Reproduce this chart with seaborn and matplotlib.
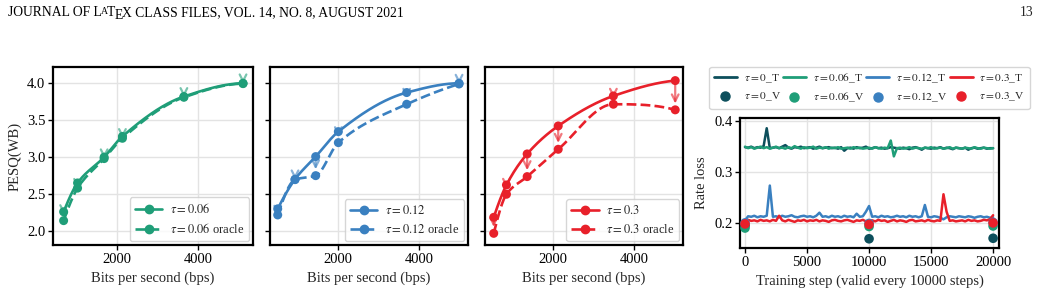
import numpy as np
import pandas as pd
import seaborn as sns
import matplotlib.pyplot as plt
from matplotlib.lines import Line2D

sns.set_theme(style='whitegrid')
plt.rcParams['font.family'] = ['Liberation Serif', 'DejaVu Serif']
plt.rcParams['mathtext.fontset'] = 'stix'
plt.rcParams['xtick.bottom'] = True
plt.rcParams['ytick.left'] = True
plt.rcParams['axes.edgecolor'] = 'black'
plt.rcParams['grid.color'] = '#e3e3e3'

# ---- PESQ vs bitrate data ----
bps_006 = [694, 1037, 1690, 2139, 3649, 5102]
pesq_006 = [2.26, 2.65, 3.00, 3.28, 3.82, 4.00]
oracle_006 = [2.14, 2.58, 2.98, 3.255, 3.81, 3.995]

bps_012 = [531, 955, 1461, 2016, 3690, 4972]
pesq_012 = [2.30, 2.70, 3.007, 3.345, 3.874, 4.00]
oracle_012 = [2.217, 2.695, 2.749, 3.196, 3.716, 3.99]

bps_03 = [557, 869, 1377, 2139, 3492, 5009]
pesq_03 = [2.185, 2.623, 3.043, 3.422, 3.828, 4.036]
oracle_03 = [1.968, 2.497, 2.736, 3.106, 3.716, 3.64]

# ---- rate loss training curves (logged every 250 steps) ----
steps = np.arange(0, 20001, 250)
loss_0 = [0.348, 0.347, 0.349, 0.346, 0.348, 0.347, 0.350, 0.385, 0.346, 0.347,
          0.348, 0.346, 0.349, 0.352, 0.347, 0.345, 0.348, 0.347, 0.349, 0.346,
          0.347, 0.348, 0.345, 0.347, 0.349, 0.346, 0.347, 0.348, 0.346, 0.347,
          0.345, 0.348, 0.341, 0.346, 0.347, 0.345, 0.348, 0.346, 0.347, 0.349,
          0.345, 0.346, 0.348, 0.346, 0.347, 0.345, 0.346, 0.348, 0.347, 0.346,
          0.345, 0.347, 0.346, 0.344, 0.347, 0.348, 0.346, 0.343, 0.347, 0.346,
          0.345, 0.347, 0.346, 0.348, 0.345, 0.347, 0.346, 0.344, 0.347, 0.346,
          0.345, 0.347, 0.343, 0.346, 0.347, 0.345, 0.346, 0.347, 0.345, 0.346,
          0.346]
loss_006 = [0.349, 0.346, 0.348, 0.345, 0.347, 0.349, 0.346, 0.348, 0.345, 0.347,
            0.349, 0.346, 0.347, 0.345, 0.348, 0.346, 0.350, 0.347, 0.345, 0.348,
            0.346, 0.347, 0.349, 0.345, 0.347, 0.346, 0.348, 0.345, 0.347, 0.346,
            0.348, 0.345, 0.346, 0.347, 0.345, 0.348, 0.346, 0.347, 0.345, 0.346,
            0.347, 0.345, 0.348, 0.346, 0.345, 0.347, 0.346, 0.361, 0.330, 0.346,
            0.347, 0.345, 0.346, 0.348, 0.345, 0.347, 0.346, 0.345, 0.347, 0.346,
            0.348, 0.345, 0.346, 0.347, 0.345, 0.346, 0.348, 0.345, 0.347, 0.346,
            0.345, 0.347, 0.346, 0.345, 0.348, 0.346, 0.345, 0.347, 0.346, 0.345,
            0.346]
loss_012 = [0.205, 0.213, 0.212, 0.214, 0.211, 0.213, 0.212, 0.214, 0.273, 0.212,
            0.213, 0.211, 0.214, 0.212, 0.213, 0.215, 0.212, 0.211, 0.213, 0.214,
            0.212, 0.213, 0.211, 0.214, 0.220, 0.212, 0.213, 0.211, 0.214, 0.212,
            0.213, 0.211, 0.214, 0.212, 0.213, 0.211, 0.218, 0.212, 0.213, 0.222,
            0.233, 0.212, 0.213, 0.211, 0.214, 0.212, 0.213, 0.211, 0.212, 0.214,
            0.212, 0.213, 0.211, 0.214, 0.212, 0.213, 0.211, 0.213, 0.235, 0.212,
            0.211, 0.213, 0.212, 0.210, 0.207, 0.211, 0.213, 0.212, 0.211, 0.213,
            0.212, 0.211, 0.213, 0.212, 0.210, 0.212, 0.213, 0.211, 0.212, 0.210,
            0.211]
loss_03 = [0.200, 0.206, 0.204, 0.205, 0.203, 0.206, 0.204, 0.205, 0.203, 0.206,
           0.204, 0.214, 0.205, 0.203, 0.206, 0.204, 0.202, 0.205, 0.204, 0.206,
           0.203, 0.205, 0.204, 0.206, 0.203, 0.205, 0.204, 0.202, 0.205, 0.206,
           0.204, 0.203, 0.205, 0.206, 0.204, 0.202, 0.205, 0.204, 0.206, 0.203,
           0.204, 0.205, 0.203, 0.206, 0.204, 0.205, 0.202, 0.204, 0.206, 0.203,
           0.205, 0.204, 0.202, 0.205, 0.206, 0.203, 0.204, 0.205, 0.203, 0.206,
           0.204, 0.203, 0.205, 0.204, 0.256, 0.222, 0.204, 0.205, 0.203, 0.204,
           0.205, 0.203, 0.206, 0.204, 0.205, 0.203, 0.204, 0.206, 0.205, 0.207,
           0.215]

val_steps = [0, 10000, 20000]
val_0 = [0.195, 0.169, 0.170]
val_006 = [0.190, 0.193, 0.194]
val_012 = [0.200, 0.199, 0.201]
val_03 = [0.198, 0.197, 0.200]

taus = ['0', '0.06', '0.12', '0.3']
colors = ['#0d4f5c', '#1f9e78', '#3a80c0', '#e8202a']


def smooth(x, y, n=200):
    # monotone cubic (PCHIP) curve through the measured points, for drawing only
    x = np.asarray(x, float)
    y = np.asarray(y, float)
    m = len(x)
    h = np.diff(x)
    dl = np.diff(y) / h
    d = np.zeros(m)
    for k in range(1, m - 1):
        if dl[k - 1] * dl[k] > 0:
            w1 = 2 * h[k] + h[k - 1]
            w2 = h[k] + 2 * h[k - 1]
            d[k] = (w1 + w2) / (w1 / dl[k - 1] + w2 / dl[k])

    def edge(h0, h1, m0, m1):
        e = ((2 * h0 + h1) * m0 - h0 * m1) / (h0 + h1)
        if np.sign(e) != np.sign(m0):
            e = 0.0
        elif np.sign(m0) != np.sign(m1) and abs(e) > 3 * abs(m0):
            e = 3 * m0
        return e

    d[0] = edge(h[0], h[1], dl[0], dl[1])
    d[-1] = edge(h[-1], h[-2], dl[-1], dl[-2])
    xs = np.linspace(x[0], x[-1], n)
    k = np.clip(np.searchsorted(x, xs) - 1, 0, m - 2)
    t = (xs - x[k]) / h[k]
    h00 = 2 * t ** 3 - 3 * t ** 2 + 1
    h10 = t ** 3 - 2 * t ** 2 + t
    h01 = -2 * t ** 3 + 3 * t ** 2
    h11 = t ** 3 - t ** 2
    ys = h00 * y[k] + h10 * h[k] * d[k] + h01 * y[k + 1] + h11 * h[k] * d[k + 1]
    return xs, ys


fig = plt.figure(figsize=(10.41, 2.99), dpi=100)
ax1 = fig.add_axes([0.0509, 0.1806, 0.1921, 0.5953])
ax2 = fig.add_axes([0.2594, 0.1806, 0.1902, 0.5953], sharey=ax1)
ax3 = fig.add_axes([0.4659, 0.1806, 0.1902, 0.5953], sharey=ax1)
ax4 = fig.add_axes([0.7109, 0.1706, 0.2488, 0.4348])

panels = [
    (ax1, bps_006, pesq_006, oracle_006, '0.06', colors[1], (433, 5346)),
    (ax2, bps_012, pesq_012, oracle_012, '0.12', colors[2], (343, 5192)),
    (ax3, bps_03, pesq_03, oracle_03, '0.3', colors[3], (343, 5200)),
]
for ax, x, y, yo, tau, c, xl in panels:
    xs, ys = smooth(x, y)
    sns.lineplot(x=xs, y=ys, ax=ax, color=c, lw=1.9, sort=False, zorder=3)
    xs, ys = smooth(x, yo)
    sns.lineplot(x=xs, y=ys, ax=ax, color=c, lw=1.9, ls='--', sort=False, zorder=3)
    sns.scatterplot(x=x, y=y, ax=ax, color=c, s=42, edgecolor='none', zorder=4)
    sns.scatterplot(x=x, y=yo, ax=ax, color=c, s=42, edgecolor='none', zorder=4)
    for xi, a, b in zip(x, y, yo):
        ax.annotate('', xy=(xi, b), xytext=(xi, a),
                    arrowprops=dict(arrowstyle='->', color=c, alpha=0.6, lw=1.6,
                                    shrinkA=0, shrinkB=4.5, mutation_scale=12),
                    zorder=5)
    ax.set_xlim(*xl)
    ax.set_ylim(1.81, 4.22)
    ax.set_xticks([2000, 4000])
    ax.set_yticks([2.0, 2.5, 3.0, 3.5, 4.0])
    ax.set_xlabel('Bits per second (bps)', fontsize=10.5)
    ax.set_ylabel('')
    handles = [Line2D([], [], color=c, lw=1.9, marker='o', ms=6),
               Line2D([], [], color=c, lw=1.9, ls='--', marker='o', ms=6)]
    ax.legend(handles, [r'$\tau=%s$' % tau, r'$\tau=%s$ oracle' % tau],
              loc='lower right', fontsize=9, borderaxespad=0.3,
              handlelength=2.2, handletextpad=0.6, fancybox=True, framealpha=0.8)
ax1.set_ylabel('PESQ(WB)', fontsize=10.5)
ax2.tick_params(labelleft=False)
ax3.tick_params(labelleft=False)

# ---- rate loss panel ----
train = [loss_0, loss_006, loss_012, loss_03]
val = [val_0, val_006, val_012, val_03]
handles, labels = [], []
for tau, c, tr in zip(taus, colors, train):
    sns.lineplot(x=steps, y=tr, ax=ax4, color=c, lw=1.8, zorder=3)
    handles.append(Line2D([], [], color=c, lw=2))
    labels.append(r'$\tau=%s$_T' % tau)
for tau, c, va in zip(taus, colors, val):
    sns.scatterplot(x=val_steps, y=va, ax=ax4, color=c, s=48, edgecolor='none', zorder=4)
    handles.append(Line2D([], [], color=c, ls='none', marker='o', ms=6.5))
    labels.append(r'$\tau=%s$_V' % tau)
order = [0, 4, 1, 5, 2, 6, 3, 7]
ax4.legend([handles[i] for i in order], [labels[i] for i in order], ncol=4,
           loc='lower center', bbox_to_anchor=(0.5, 1.07), fontsize=8.2,
           columnspacing=0.2, handletextpad=0.6, handlelength=2.0,
           borderaxespad=0.0, fancybox=True)
ax4.set_xlim(-400, 20480)
ax4.set_ylim(0.151, 0.405)
ax4.set_xticks([0, 5000, 10000, 15000, 20000])
ax4.set_yticks([0.2, 0.3, 0.4])
ax4.set_xlabel('Training step (valid every 10000 steps)', fontsize=10.5)
ax4.set_ylabel('Rate loss', fontsize=10.5)

for ax in [ax1, ax2, ax3, ax4]:
    for s in ax.spines.values():
        s.set_linewidth(1.6)
        s.set_color('black')
    ax.tick_params(labelsize=10.5, length=3.5, width=1.0, pad=2, colors='black')
    ax.grid(True, lw=1.0)

# ---- page header ----
hs = 9.8
renderer = fig.canvas.get_renderer()
pieces = [('JOURNAL OF L', hs, 0.0), ('A', hs * 0.72, 2.0), ('T', hs, 0.0),
          ('E', hs, -2.8), ('X CLASS FILES, VOL. 14, NO. 8, AUGUST 2021', hs, 0.0)]
kerns = [0, -1.2, -0.6, -0.8, -0.8]
xpix = 8.0
for (txt, size, dy), kx in zip(pieces, kerns):
    xpix += kx
    t = fig.text(xpix / 1041, (299 - 16 + dy) / 299, txt, fontsize=size,
                 ha='left', va='baseline', color='black')
    xpix = t.get_window_extent(renderer).x1
fig.text(1033 / 1041, (299 - 16) / 299, '13', fontsize=hs, ha='right', va='baseline')

fig.savefig('out.png', dpi=100)
